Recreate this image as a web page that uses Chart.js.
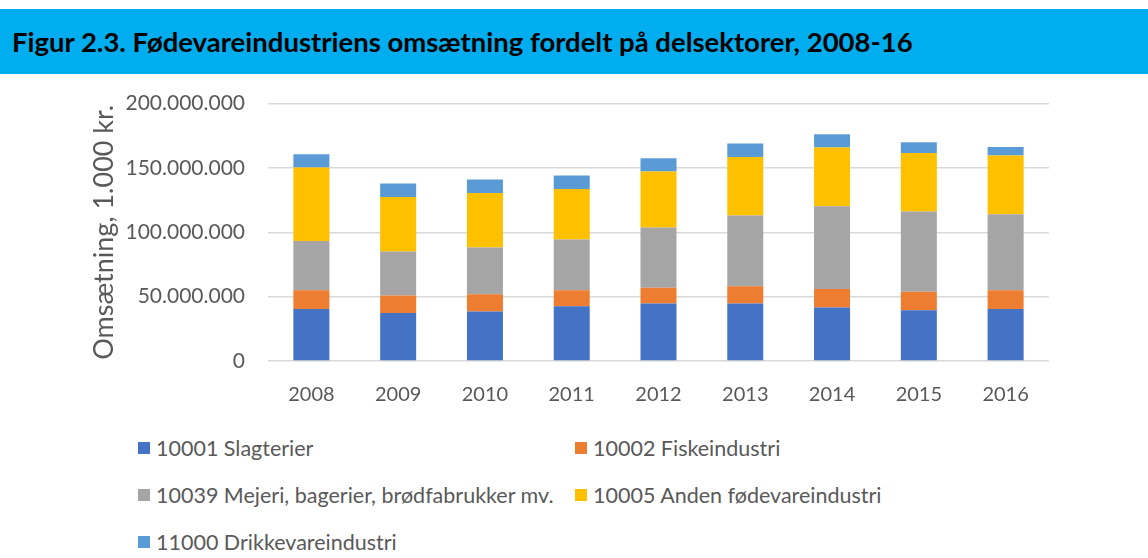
<!DOCTYPE html>
<html>
<head>
<meta charset="utf-8">
<script src="https://cdn.jsdelivr.net/npm/chart.js@4"></script>
<style>
    body { margin: 0; background: #fff; font-family: Lato, "Open Sans", sans-serif; }
    #titleBar {
        position: absolute; left: 0; top: 9px; width: 1148px; height: 65px;
        background: #00adef;
    }
    #titleBar h1 {
        margin: 0; position: absolute; left: 12px; top: 16px;
        font-size: 27.5px; font-weight: bold; color: #000; white-space: nowrap;
    }
    #wrap { position: absolute; left: 0; top: 68px; width: 1148px; height: 342px; }
    #legend {
        position: absolute; left: 138px; top: 435px;
        display: grid; grid-template-columns: 437px 400px; row-gap: 21px;
        font-size: 21.5px; color: #595959;
    }
    .item { display: flex; align-items: center; height: 26px; white-space: nowrap; }
    .box { width: 12px; height: 12px; margin-right: 6px; }
</style>
</head>
<body>
<div id="titleBar"><h1>Figur 2.3. Fødevareindustriens omsætning fordelt på delsektorer, 2008-16</h1></div>
<div id="wrap"><canvas id="chart"></canvas></div>
<div id="legend"></div>

<script>
// years and values, 1.000 kr.
const years = ['2008', '2009', '2010', '2011', '2012', '2013', '2014', '2015', '2016'];

const slagterier = [40400000, 37300000, 38400000, 42500000, 44600000, 44600000, 41500000, 39400000, 40400000];
const fiskeindustri = [14500000, 13500000, 13400000, 12400000, 12400000, 13500000, 14500000, 14500000, 14500000];
const mejeri = [38400000, 34200000, 36300000, 39500000, 46700000, 54900000, 64200000, 62200000, 59100000];
const andenFoedevare = [57000000, 42500000, 42500000, 39300000, 43500000, 45600000, 45700000, 45600000, 45600000];
const drikkevare = [10300000, 10400000, 10400000, 10400000, 10300000, 10400000, 10300000, 8300000, 6700000];

const seriesNames = [
    '10001 Slagterier',
    '10002 Fiskeindustri',
    '10039 Mejeri, bagerier, brødfabrukker mv.',
    '10005 Anden fødevareindustri',
    '11000 Drikkevareindustri'
];
const seriesColors = ['#4472c4', '#ed7d31', '#a5a5a5', '#ffc000', '#5b9bd5'];
const seriesData = [slagterier, fiskeindustri, mejeri, andenFoedevare, drikkevare];

const yTicks = [0, 50000000, 100000000, 150000000, 200000000];

const tickColor = '#595959';

function formatDK(v) {
    return v.toLocaleString('da-DK');
}

const datasets = seriesData.map((data, i) => ({
    label: seriesNames[i],
    data: data,
    backgroundColor: seriesColors[i],
    borderWidth: 0,
    categoryPercentage: 1,
    barPercentage: 0.415
}));

const ctx = document.getElementById('chart').getContext('2d');

const chart = new Chart(ctx, {
    type: 'bar',
    data: { labels: years, datasets: datasets },
    options: {
        responsive: true,
        maintainAspectRatio: false,
        animation: false,
        layout: { padding: { left: 0, right: 99, top: 12, bottom: 0 } },
        plugins: {
            legend: { display: false },
            tooltip: { enabled: false }
        },
        scales: {
            x: {
                stacked: true,
                grid: { display: false },
                border: { display: false },
                ticks: { font: { family: 'Lato', size: 20 }, color: tickColor, padding: 14 },
                afterFit: (scale) => { scale.height = 49; }
            },
            y: {
                stacked: true,
                min: 0,
                max: 200000000,
                afterBuildTicks: (scale) => {
                    scale.ticks = yTicks.map(v => ({ value: v }));
                },
                grid: { color: '#d9d9d9', lineWidth: 1.5, drawTicks: false },
                border: { display: false },
                ticks: {
                    font: { family: 'Lato', size: 21 },
                    color: tickColor,
                    padding: 23,
                    callback: (v) => formatDK(v)
                },
                title: {
                    display: true,
                    text: 'Omsætning, 1.000 kr.',
                    font: { family: 'Lato', size: 27 },
                    color: tickColor,
                    padding: { top: 88, bottom: 0 }
                },
                afterFit: (scale) => { scale.width = 268; }
            }
        }
    }
});

// legend, two columns like the original
const legendEl = document.getElementById('legend');
chart.data.datasets.forEach(ds => {
    const item = document.createElement('div');
    item.className = 'item';
    item.innerHTML = `<span class="box" style="background:${ds.backgroundColor}"></span>${ds.label}`;
    legendEl.appendChild(item);
});
</script>
</body>
</html>
